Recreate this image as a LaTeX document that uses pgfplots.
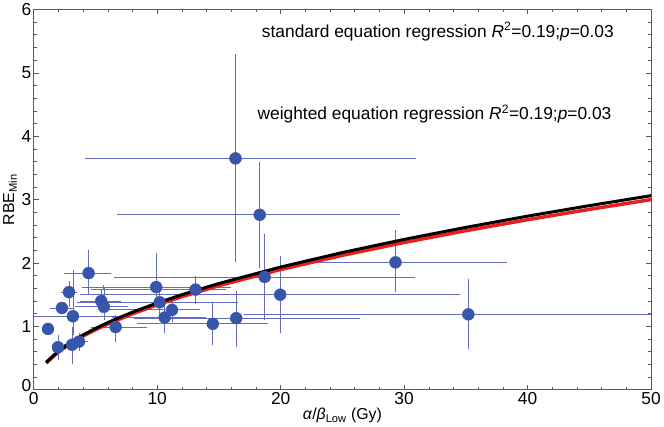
\documentclass[border=0pt]{standalone}
\usepackage{fontspec}
\setmainfont{Liberation Sans}
\usepackage{pgfplots}
\pgfplotsset{compat=1.18}
\usepackage{pgfplotstable}

\definecolor{ptblue}{RGB}{55,85,170}
\definecolor{errblue}{RGB}{100,108,190}
\definecolor{fitred}{RGB}{235,30,30}
\definecolor{framegray}{RGB}{90,90,90}

\pgfplotstableread{
x y xm xp ym yp
1.15 0.96 0 0 0 0
1.96 0.67 0.36 0.44 0.17 0.17
2.28 1.29 0.78 0.72 0 0
2.85 1.54 0.45 0.45 0.21 0.14
3.17 1.16 3.17 4.33 0.26 0.70
3.10 0.71 0.50 0.50 0.27 0.25
3.66 0.76 0.46 0.54 0.12 0.10
4.44 1.84 1.84 1.66 0.30 0.33
5.47 1.40 1.57 1.43 0.15 0.15
5.68 1.31 2.18 1.82 0.18 0.31
6.63 0.99 1.83 2.37 0.21 0.16
9.92 1.62 5.82 5.88 0.18 0.51
10.2 1.38 6.5 6.2 0.18 0.17
10.6 1.14 4.1 3.2 0.22 0.17
11.2 1.26 5.3 2.1 0.16 0.14
13.1 1.58 8.3 2.3 0.19 0.19
14.5 1.04 6.0 4.3 0.31 0.29
16.4 1.13 8.1 9.9 0.42 0.39
16.34 3.65 12.04 14.46 1.61 1.62
18.3 2.76 11.4 11.2 0.80 0.80
18.7 1.78 12.0 12.0 0.65 0.65
19.96 1.50 16.06 14.44 0.58 0.58
29.3 2.01 6.8 8.9 0.44 0.48
35.2 1.19 18.0 16.0 0.51 0.52
}\pts

\pgfplotstableread{
x y
1 0.433
2 0.612
3 0.750
4 0.866
5 0.968
6 1.061
8 1.225
10 1.369
12 1.500
15 1.677
20 1.936
25 2.165
30 2.372
35 2.562
40 2.739
45 2.905
50 3.062
}\fitblack

\pgfplotstableread{
x y
1 0.420
2 0.598
3 0.733
4 0.847
5 0.947
6 1.038
8 1.199
10 1.341
12 1.469
15 1.643
20 1.897
25 2.121
30 2.324
35 2.510
40 2.683
45 2.846
50 3.000
}\fitred

\begin{document}
\begin{tikzpicture}
\begin{axis}[
  scale only axis,
  width=620bp, height=382bp,
  xmin=0, xmax=50, ymin=0, ymax=6,
  xtick={0,10,20,30,40,50},
  ytick={0,1,2,3,4,5,6},
  yticklabels={\raisebox{9bp}{0},1,2,3,4,5,6},
  minor x tick num=4, minor y tick num=4,
  tick align=inside,
  major tick length=5bp, minor tick length=3bp,
  axis line style={framegray, line width=0.9bp},
  every tick/.style={framegray, line width=0.6bp},
  ticklabel style={font=\fontsize{17.5}{19}\selectfont},
  /pgf/number format/assume math mode=true,
  xticklabel style={yshift=1bp},
  yticklabel style={xshift=1bp},
  xlabel={\textit{α}/\textit{β}\textsubscript{Low} (Gy)},
  ylabel={RBE\textsubscript{Min}},
  label style={font=\fontsize{16}{18}\selectfont},
  xlabel style={yshift=3bp},
  ylabel style={yshift=-2bp},
]
\addplot[only marks, mark=*, mark size=6bp,
  mark options={fill=ptblue, draw=ptblue},
  error bars/.cd,
    x dir=both, x explicit,
    y dir=both, y explicit,
    error bar style={errblue, line width=0.8bp},
    error mark options={errblue, line width=0.8bp, mark size=2bp},
] table[x=x, y=y, x error minus=xm, x error plus=xp, y error minus=ym, y error plus=yp] {\pts};
\addplot[fitred, line width=3.5bp, no marks] table[x=x, y=y] {\fitred};
\addplot[black, line width=3bp, no marks] table[x=x, y=y] {\fitblack};
\node[anchor=west, font=\fontsize{17.5}{19}\selectfont] at (axis cs:18.2,5.65)
  {standard equation regression \textit{R}\textsuperscript{2}=0.19;\textit{p}=0.03};
\node[anchor=west, font=\fontsize{17.5}{19}\selectfont] at (axis cs:17.85,4.35)
  {weighted equation regression \textit{R}\textsuperscript{2}=0.19;\textit{p}=0.03};
\end{axis}
\end{tikzpicture}
\end{document}
